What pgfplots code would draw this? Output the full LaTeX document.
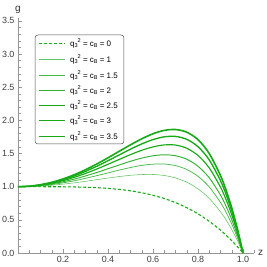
\documentclass[border=0pt]{standalone}
\usepackage{pgfplots}
\pgfplotsset{compat=1.18}
\usepackage{fontspec}
\setmainfont{Liberation Sans}
\definecolor{lg}{RGB}{22,170,22}
\definecolor{lgA}{RGB}{95,195,95}
\definecolor{lgB}{RGB}{70,185,70}
\definecolor{lgC}{RGB}{50,178,50}
\definecolor{axg}{RGB}{150,150,150}
\newcommand{\sm}[1]{{\fontsize{5.6}{6}\selectfont #1}}
\newcommand{\lab}[1]{q\raisebox{-0.45ex}{\sm{3}}\raisebox{0.75ex}{\sm{2}} = c\raisebox{-0.45ex}{\sm{B}} = #1}

\begin{document}
\begin{tikzpicture}
\begin{axis}[
  at={(0,0)}, anchor=south west,
  scale only axis,
  width=236.25bp, height=235.4bp,
  xmin=0, xmax=1.05, ymin=0, ymax=3.55,
  axis lines=left,
  axis line style={draw=axg, line width=0.6bp, -},
  xtick={0.2,0.4,0.6,0.8,1.0},
  minor xtick={0.05,0.1,0.15,0.25,0.3,0.35,0.45,0.5,0.55,0.65,0.7,0.75,0.85,0.9,0.95,1.05},
  ytick={0,0.5,1,1.5,2,2.5,3,3.5},
  minor y tick num=4,
  tick align=inside,
  major tick length=4bp, minor tick length=2.5bp,
  tick style={draw=axg, line width=0.5bp},
  /pgf/number format/assume math mode=true,
  xticklabel style={/pgf/number format/.cd, fixed, fixed zerofill, precision=1},
  yticklabel style={/pgf/number format/.cd, fixed, fixed zerofill, precision=1},
  ticklabel style={font=\fontsize{9}{10}\selectfont, text=black!75},
  xlabel={z}, ylabel={g},
  xlabel style={at={(rel axis cs:1.027,0)}, anchor=center, font=\fontsize{10}{11}\selectfont, text=black!80},
  ylabel style={at={(rel axis cs:0,1.034)}, anchor=center, rotate=-90, font=\fontsize{10}{11}\selectfont, text=black!80},
  clip=false,
]
% legend frame
\draw[black!70, rounded corners=3bp, line width=0.5bp, fill=white] (axis cs:0.0756,3.288) rectangle (axis cs:0.471,1.644);
% legend samples (drawn through the axis)
\addplot[forget plot, color=lg, line width=1.1bp, dash pattern=on 3bp off 2bp] coordinates {(0.0933,3.1594) (0.2089,3.1594)};
\addplot[forget plot, color=lgA, line width=0.8bp] coordinates {(0.0933,2.9181) (0.2089,2.9181)};
\addplot[forget plot, color=lgB, line width=0.9bp] coordinates {(0.0933,2.6768) (0.2089,2.6768)};
\addplot[forget plot, color=lgC, line width=1.0bp] coordinates {(0.0933,2.4506) (0.2089,2.4506)};
\addplot[forget plot, color=lg, line width=1.15bp] coordinates {(0.0933,2.2244) (0.2089,2.2244)};
\addplot[forget plot, color=lg, line width=1.35bp] coordinates {(0.0933,1.9982) (0.2089,1.9982)};
\addplot[forget plot, color=lg, line width=1.6bp] coordinates {(0.0933,1.7569) (0.2089,1.7569)};
\begin{scope}[every node/.style={anchor=west, inner sep=0pt, font=\fontsize{8}{9}\selectfont}]
\node at (axis cs:0.2311,3.1594) {\lab{0}};
\node at (axis cs:0.2311,2.9181) {\lab{1}};
\node at (axis cs:0.2311,2.6768) {\lab{1.5}};
\node at (axis cs:0.2311,2.4506) {\lab{2}};
\node at (axis cs:0.2311,2.2244) {\lab{2.5}};
\node at (axis cs:0.2311,1.9982) {\lab{3}};
\node at (axis cs:0.2311,1.7569) {\lab{3.5}};
\end{scope}
% c = 0
\addplot[color=lg, line width=1.1bp, dash pattern=on 3bp off 2bp, smooth] coordinates {
(0,1) (0.05,1) (0.1,0.9999) (0.15,0.9995) (0.2,0.9984) (0.25,0.9961) (0.3,0.9919) (0.35,0.985) (0.4,0.9744) (0.45,0.959) (0.5,0.9375) (0.55,0.9085) (0.6,0.8704) (0.65,0.8215) (0.7,0.7599) (0.75,0.6836) (0.8,0.5904) (0.85,0.478) (0.9,0.3439) (0.925,0.2679) (0.95,0.1855) (0.975,0.0963) (1,0)};
% c = 1
\addplot[color=lgA, line width=0.55bp, smooth] coordinates {
(0,1) (0.05,1.0025) (0.1,1.010) (0.15,1.022) (0.2,1.038) (0.25,1.058) (0.3,1.081) (0.35,1.106) (0.4,1.130) (0.45,1.153) (0.5,1.172) (0.55,1.183) (0.6,1.184) (0.65,1.169) (0.7,1.132) (0.75,1.068) (0.8,0.968) (0.85,0.823) (0.9,0.622) (0.925,0.497) (0.95,0.353) (0.975,0.188) (1,0)};
% c = 1.5
\addplot[color=lgB, line width=0.75bp, smooth] coordinates {
(0,1) (0.05,1.004) (0.1,1.015) (0.15,1.033) (0.2,1.058) (0.25,1.089) (0.3,1.126) (0.35,1.166) (0.4,1.208) (0.45,1.250) (0.5,1.289) (0.55,1.321) (0.6,1.340) (0.65,1.342) (0.7,1.318) (0.75,1.260) (0.8,1.157) (0.85,0.996) (0.9,0.762) (0.925,0.612) (0.95,0.437) (0.975,0.234) (1,0)};
% c = 2
\addplot[color=lgC, line width=0.95bp, smooth] coordinates {
(0,1) (0.05,1.005) (0.1,1.019) (0.15,1.042) (0.2,1.074) (0.25,1.114) (0.3,1.162) (0.35,1.214) (0.4,1.271) (0.45,1.328) (0.5,1.383) (0.55,1.431) (0.6,1.466) (0.65,1.481) (0.7,1.467) (0.75,1.414) (0.8,1.308) (0.85,1.134) (0.9,0.873) (0.925,0.703) (0.95,0.504) (0.975,0.270) (1,0)};
% c = 2.5
\addplot[color=lg, line width=1.15bp, smooth] coordinates {
(0,1) (0.05,1.006) (0.1,1.023) (0.15,1.052) (0.2,1.091) (0.25,1.141) (0.3,1.200) (0.35,1.266) (0.4,1.338) (0.45,1.411) (0.5,1.484) (0.55,1.549) (0.6,1.600) (0.65,1.630) (0.7,1.628) (0.75,1.580) (0.8,1.471) (0.85,1.283) (0.9,0.993) (0.925,0.802) (0.95,0.576) (0.975,0.310) (1,0)};
% c = 3
\addplot[color=lg, line width=1.35bp, smooth] coordinates {
(0,1) (0.05,1.007) (0.1,1.027) (0.15,1.060) (0.2,1.105) (0.25,1.163) (0.3,1.231) (0.35,1.308) (0.4,1.392) (0.45,1.479) (0.5,1.566) (0.55,1.645) (0.6,1.710) (0.65,1.752) (0.7,1.758) (0.75,1.714) (0.8,1.603) (0.85,1.404) (0.9,1.090) (0.925,0.882) (0.95,0.634) (0.975,0.342) (1,0)};
% c = 3.5
\addplot[color=lg, line width=1.6bp, smooth] coordinates {
(0,1) (0.05,1.007) (0.1,1.030) (0.15,1.066) (0.2,1.117) (0.25,1.180) (0.3,1.256) (0.35,1.342) (0.4,1.436) (0.45,1.534) (0.5,1.631) (0.55,1.722) (0.6,1.798) (0.65,1.849) (0.7,1.862) (0.75,1.822) (0.8,1.709) (0.85,1.500) (0.9,1.168) (0.925,0.946) (0.95,0.681) (0.975,0.367) (1,0)};
\end{axis}
\pgfresetboundingbox
\path (-18bp,-14bp) rectangle (249bp,253bp);
\end{tikzpicture}
\end{document}
